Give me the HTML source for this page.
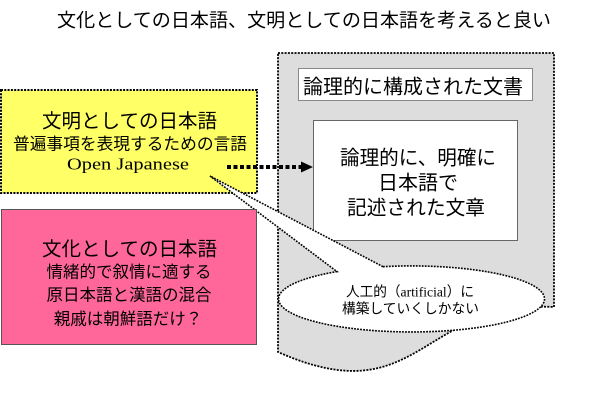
<!DOCTYPE html>
<html><head><meta charset="utf-8">
<style>
html,body{margin:0;padding:0;background:#fff;}
svg{display:block;}
.jp{font-family:"Liberation Sans","Noto Sans CJK JP",sans-serif;fill:#000;}
</style></head>
<body>
<svg width="600" height="404" viewBox="0 0 600 404" xmlns="http://www.w3.org/2000/svg">
  <!-- title -->
  <text class="jp" x="304" y="26.7" font-size="19" text-anchor="middle" textLength="494" lengthAdjust="spacingAndGlyphs">文化としての日本語、文明としての日本語を考えると良い</text>

  <!-- gray document shape -->
  <path d="M278,53 H554 V307 C420,300 420,415 278,352 Z" fill="#dddddd" stroke="#000" stroke-width="1.8" stroke-dasharray="2 1.3"/>

  <!-- title box -->
  <rect x="298.5" y="68.5" width="234" height="32" fill="#fff" stroke="#888" stroke-width="1"/>
  <text class="jp" x="413" y="93.6" font-size="20" text-anchor="middle" textLength="220" lengthAdjust="spacingAndGlyphs">論理的に構成された文書</text>

  <!-- white box -->
  <rect x="313.5" y="120.5" width="204" height="120" fill="#fff" stroke="#666" stroke-width="1"/>
  <text class="jp" x="418" y="164.6" font-size="20" text-anchor="middle" textLength="156" lengthAdjust="spacingAndGlyphs">論理的に、明確に</text>
  <text class="jp" x="418" y="189.6" font-size="20" text-anchor="middle">日本語で</text>
  <text class="jp" x="416" y="214.6" font-size="20" text-anchor="middle" textLength="138" lengthAdjust="spacingAndGlyphs">記述された文章</text>

  <!-- yellow box -->
  <rect x="1" y="90" width="256" height="103" fill="#ffff66" stroke="#000" stroke-width="2" stroke-dasharray="2 1.3"/>
  <text class="jp" x="129.5" y="127.4" font-size="19.5" text-anchor="middle" textLength="175" lengthAdjust="spacingAndGlyphs">文明としての日本語</text>
  <text class="jp" x="130" y="149.3" font-size="16.7" text-anchor="middle" textLength="234" lengthAdjust="spacingAndGlyphs">普遍事項を表現するための言語</text>
  <text x="128" y="169.5" font-size="17" text-anchor="middle" textLength="122" lengthAdjust="spacingAndGlyphs" style="font-family:'Liberation Serif','DejaVu Serif',serif;fill:#000;">Open Japanese</text>

  <!-- callout ellipse with tail -->
  <path d="M383,266.7 A133,33 0 1 1 337,271.6 L210,176 Z" fill="#fff" stroke="#000" stroke-width="1.6" stroke-dasharray="1.8 1.2"/>
  <text class="jp" x="410" y="296.3" font-size="14" text-anchor="middle" textLength="128" lengthAdjust="spacingAndGlyphs">人工的（<tspan style="font-family:'Liberation Serif',serif;">artificial</tspan>）に</text>
  <text class="jp" x="410.5" y="313.3" font-size="14" text-anchor="middle" textLength="137" lengthAdjust="spacingAndGlyphs">構築していくしかない</text>

  <!-- dotted arrow -->
  <line x1="227" y1="167" x2="302" y2="167" stroke="#000" stroke-width="4" stroke-dasharray="4 2.5"/>
  <polygon points="301,161.5 313,167 301,172.5" fill="#000"/>

  <!-- pink box -->
  <rect x="1.5" y="209.5" width="255" height="135" fill="#ff6699" stroke="#555" stroke-width="1"/>
  <text class="jp" x="129.5" y="255.7" font-size="19.5" text-anchor="middle" textLength="175" lengthAdjust="spacingAndGlyphs">文化としての日本語</text>
  <text class="jp" x="129" y="277.3" font-size="16.5" text-anchor="middle">情緒的で叙情に適する</text>
  <text class="jp" x="129" y="300.6" font-size="16.5" text-anchor="middle">原日本語と漢語の混合</text>
  <text class="jp" x="128" y="324.6" font-size="16.5" text-anchor="middle">親戚は朝鮮語だけ？</text>
</svg>
</body></html>
